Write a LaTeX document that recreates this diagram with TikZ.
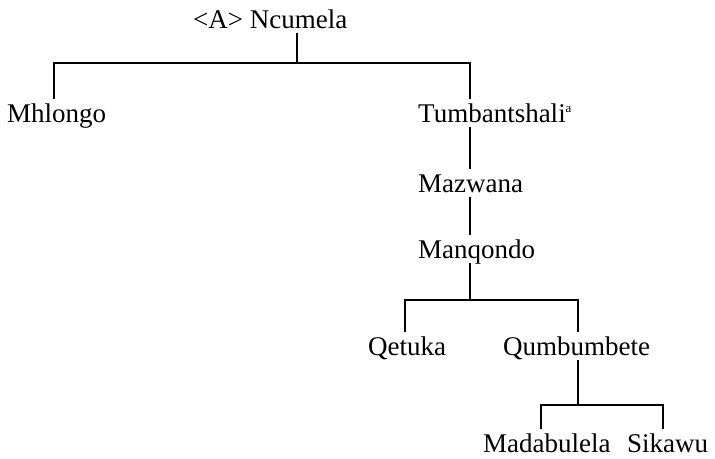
\documentclass[tikz,border=0pt]{standalone}
\usepackage{fontspec}
\setmainfont{Liberation Serif}
\begin{document}
\begin{tikzpicture}[x=1pt,y=-1pt,
  person/.style={anchor=base west, inner xsep=0pt, inner ysep=6pt, text height=18pt, text depth=0pt, font=\fontsize{27}{32}\selectfont},
  link/.style={line width=1.6pt, line cap=rect}]
\useasboundingbox[fill=white] (0,0) rectangle (715,458);
% people
\node[person] (ncumela) at (193,28) {<A> Ncumela};
\node[person] (mhlongo) at (7,122) {Mhlongo};
\node[person] (tumb) at (418,122) {Tumbantshali\textsuperscript{\fontsize{13}{13}\selectfont a}};
\node[person] (mazwana) at (418,192) {Mazwana};
\node[person] (manqondo) at (418,258) {Manqondo};
\node[person] (qetuka) at (368,355) {Qetuka};
\node[person] (qumb) at (503,355) {Qumbumbete};
\node[person] (mada) at (483,452) {Madabulela};
\node[person] (sikawu) at (627,452) {Sikawu};
% junctions
\coordinate (jA) at (297,63);
\coordinate (xMh) at (54,63);
\coordinate (xTu) at (470,63);
\coordinate (jB) at (470,300);
\coordinate (xQe) at (405,300);
\coordinate (xQu) at (578,300);
\coordinate (jC) at (578,405);
\coordinate (xMa) at (541,405);
\coordinate (xSi) at (663,405);
% connectors
\draw[link] (ncumela.south -| jA) -- (jA);
\draw[link] (mhlongo.north -| xMh) -- (xMh) -- (xTu) -- (tumb.north -| xTu);
\draw[link] (tumb.south -| xTu) -- (mazwana.north -| xTu);
\draw[link] (mazwana.south -| xTu) -- (manqondo.north -| xTu);
\draw[link] (manqondo.south -| jB) -- (jB);
\draw[link] (qetuka.north -| xQe) -- (xQe) -- (xQu) -- (qumb.north -| xQu);
\draw[link] (qumb.south -| jC) -- (jC);
\draw[link] (mada.north -| xMa) -- (xMa) -- (xSi) -- (sikawu.north -| xSi);
\end{tikzpicture}
\end{document}
